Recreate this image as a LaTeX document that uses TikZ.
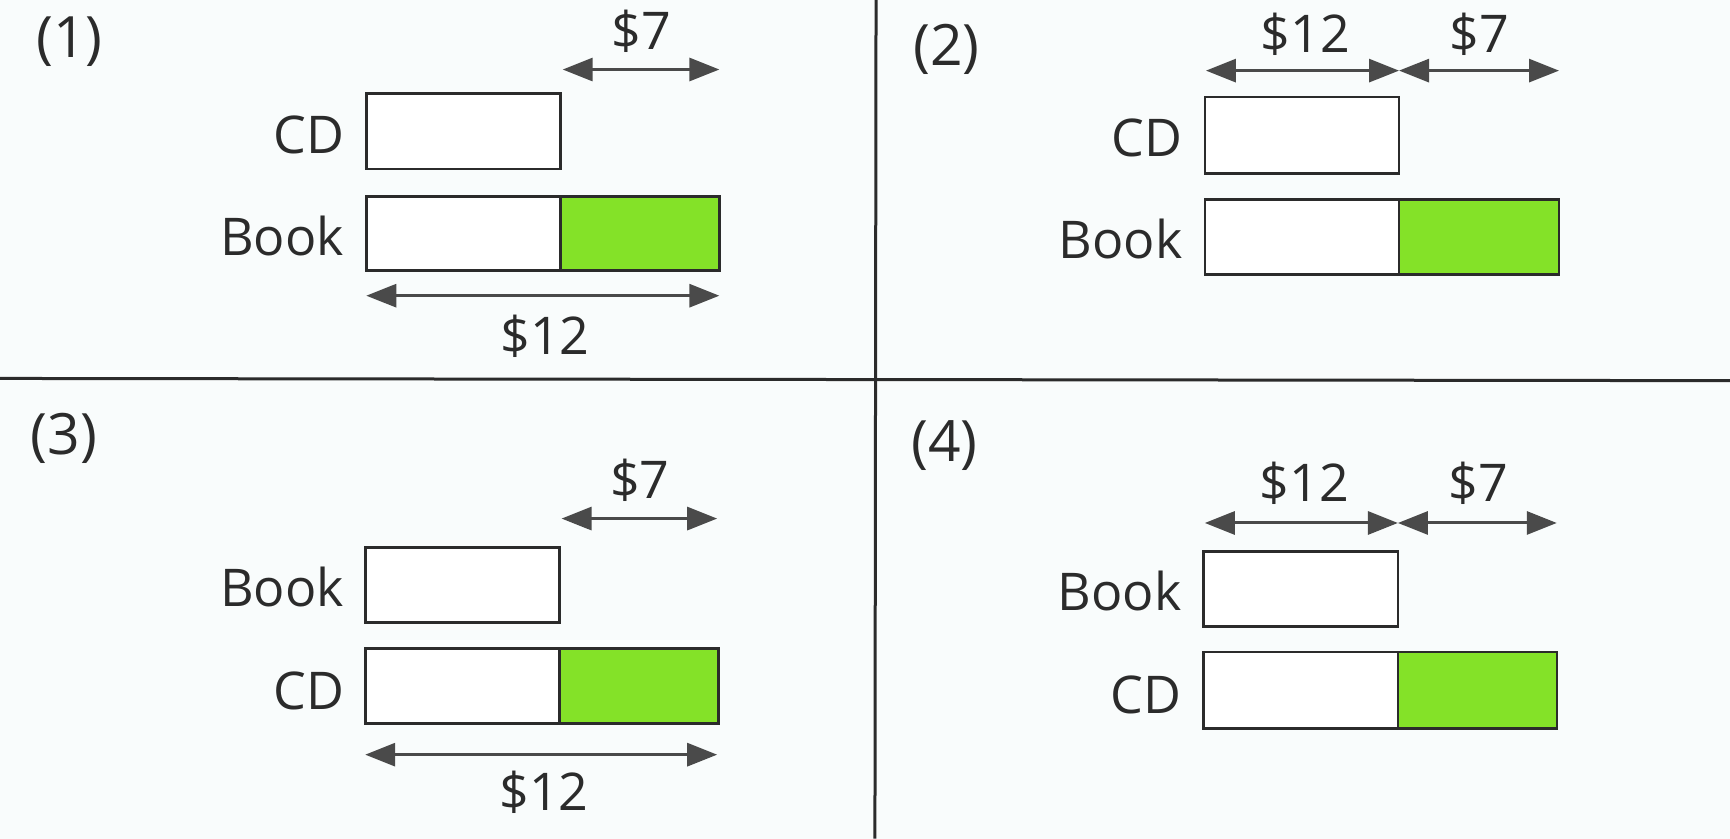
\documentclass[tikz,border=0pt]{standalone}
\usepackage{fontspec}
\setmainfont{Open Sans}
\usetikzlibrary{arrows.meta}
\definecolor{barGreen}{HTML}{84E228}
\definecolor{lineDark}{HTML}{2B2B2B}
\definecolor{arrowGray}{HTML}{4A4A4A}
\definecolor{paper}{HTML}{F9FCFC}
\tikzset{
  bar/.style={draw=lineDark, line width=2.6pt, fill=white},
  greenbar/.style={draw=lineDark, line width=2.6pt, fill=barGreen},
  divider/.style={draw=lineDark, line width=3pt},
  dimarrow/.style={draw=arrowGray, line width=3pt,
    {Triangle[length=30pt,width=23pt]}-{Triangle[length=30pt,width=23pt]}},
  lbl/.style={font=\fontsize{52}{60}\selectfont, text=lineDark, inner sep=0pt},
  numlbl/.style={font=\fontsize{57}{66}\selectfont, text=lineDark, inner sep=0pt},
}
\begin{document}
\begin{tikzpicture}[x=1.1033pt, y=-1.1033pt]
\useasboundingbox (0,0) rectangle (1568,760);
\fill[paper] (0,0) rectangle (1568,760);
% dividers
\coordinate (hL) at (0,343);
\coordinate (hR) at (1568,345);
\coordinate (vT) at (794,0);
\coordinate (vB) at (793,760);
\draw[divider] (hL) -- (hR);
\draw[divider] (vT) -- (vB);
% panel numbers
\node[numlbl] (n1) at (63,38) {(1)};
\node[numlbl] (n2) at (858,45) {(2)};
\node[numlbl] (n3) at (58,397) {(3)};
\node[numlbl] (n4) at (856,404) {(4)};

% ---------- Panel 1 ----------
\begin{scope}[shift={(332,85)}]
  \draw[bar] (0,0) rectangle (176,68);
  \draw[bar] (0,93) rectangle (176,160);
  \draw[greenbar] (176,93) rectangle (320,160);
  \node[lbl, anchor=east] (p1cd) at (-20,37) {CD};
  \node[lbl, anchor=east] (p1book) at (-20,129) {Book};
  \coordinate (p1a7l) at (178,-22); \coordinate (p1a7r) at (320,-22);
  \draw[dimarrow] (p1a7l) -- (p1a7r);
  \node[lbl] (p1s7) at (249,-57) {\$7};
  \coordinate (p1a12l) at (0,183); \coordinate (p1a12r) at (320,183);
  \draw[dimarrow] (p1a12l) -- (p1a12r);
  \node[lbl] (p1s12) at (162,220) {\$12};
\end{scope}

% ---------- Panel 2 ----------
\begin{scope}[shift={(1092,88)}]
  \draw[bar] (0,0) rectangle (176,69);
  \draw[bar] (0,93) rectangle (176,161);
  \draw[greenbar] (176,93) rectangle (321,161);
  \node[lbl, anchor=east] (p2cd) at (-20,37) {CD};
  \node[lbl, anchor=east] (p2book) at (-20,129) {Book};
  \coordinate (p2a12l) at (1,-24); \coordinate (p2am) at (176,-24); \coordinate (p2a7r) at (321,-24);
  \draw[dimarrow] (p2a12l) -- (p2am);
  \draw[dimarrow] (p2am) -- (p2a7r);
  \node[lbl] (p2s12) at (91,-57) {\$12};
  \node[lbl] (p2s7) at (249,-57) {\$7};
\end{scope}

% ---------- Panel 3 ----------
\begin{scope}[shift={(331,496)}]
  \draw[bar] (0,0) rectangle (176,68);
  \draw[bar] (0,92) rectangle (176,160);
  \draw[greenbar] (176,92) rectangle (320,160);
  \node[lbl, anchor=east] (p3book) at (-19,36) {Book};
  \node[lbl, anchor=east] (p3cd) at (-19,130) {CD};
  \coordinate (p3a7l) at (178,-26); \coordinate (p3a7r) at (319,-26);
  \draw[dimarrow] (p3a7l) -- (p3a7r);
  \node[lbl] (p3s7) at (249,-61) {\$7};
  \coordinate (p3a12l) at (0,188); \coordinate (p3a12r) at (319,188);
  \draw[dimarrow] (p3a12l) -- (p3a12r);
  \node[lbl] (p3s12) at (162,222) {\$12};
\end{scope}

% ---------- Panel 4 ----------
\begin{scope}[shift={(1091,500)}]
  \draw[bar] (0,0) rectangle (176,68);
  \draw[bar] (0,91) rectangle (176,160);
  \draw[greenbar] (176,91) rectangle (320,160);
  \node[lbl, anchor=east] (p4book) at (-20,36) {Book};
  \node[lbl, anchor=east] (p4cd) at (-20,130) {CD};
  \coordinate (p4a12l) at (1,-26); \coordinate (p4am) at (176,-26); \coordinate (p4a7r) at (320,-26);
  \draw[dimarrow] (p4a12l) -- (p4am);
  \draw[dimarrow] (p4am) -- (p4a7r);
  \node[lbl] (p4s12) at (91,-62) {\$12};
  \node[lbl] (p4s7) at (249,-62) {\$7};
\end{scope}
\end{tikzpicture}
\end{document}
